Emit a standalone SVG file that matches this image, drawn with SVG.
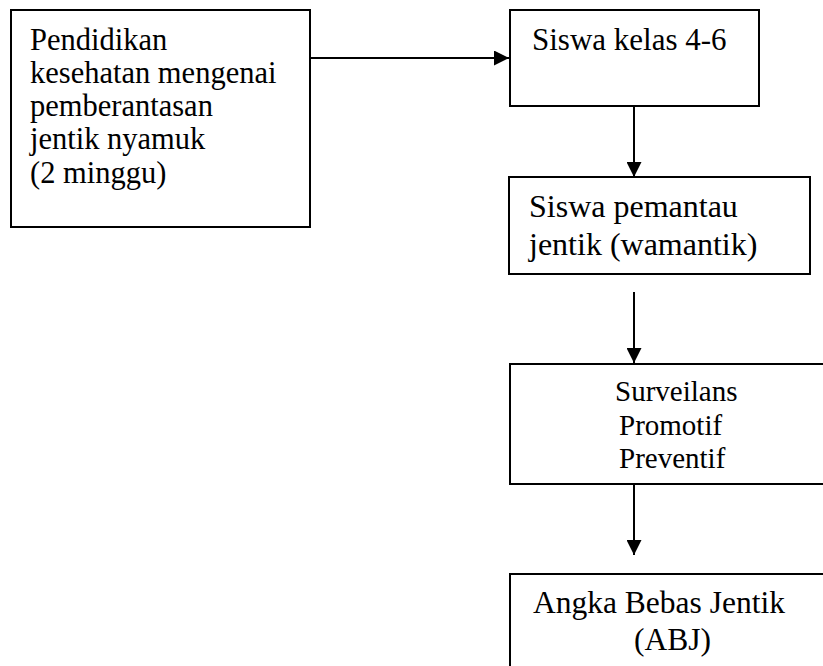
<svg xmlns="http://www.w3.org/2000/svg" width="823" height="666" viewBox="0 0 823 666">
<defs>
<style>
.box{fill:#fff;stroke:#000;stroke-width:2}
.t{font-family:"Liberation Serif","Times New Roman",serif;fill:#000}
.c{stroke:#000;stroke-width:2;fill:none}
</style>
<marker id="ah" markerUnits="userSpaceOnUse" markerWidth="15" markerHeight="15" refX="15" refY="7.5" orient="auto" viewBox="0 0 15 15">
<path d="M0,0 L15,7.5 L0,15 z" fill="#000"/>
</marker>
</defs>
<rect width="823" height="666" fill="#fff"/>
<g id="n1">
<rect class="box" x="11" y="10" width="299" height="217"/>
<text class="t" font-size="30.5"><tspan x="30" y="50">Pendidikan</tspan><tspan x="30" y="83">kesehatan mengenai</tspan><tspan x="30" y="116">pemberantasan</tspan><tspan x="30" y="149">jentik nyamuk</tspan><tspan x="30" y="183">(2 minggu)</tspan></text>
</g>
<g id="n2">
<rect class="box" x="510" y="10" width="249" height="96"/>
<text class="t" font-size="31" x="532" y="50">Siswa kelas 4-6</text>
</g>
<g id="n3">
<rect class="box" x="509" y="177" width="301" height="97"/>
<text class="t" font-size="32"><tspan x="529" y="217">Siswa pemantau</tspan><tspan x="529" y="255">jentik (wamantik)</tspan></text>
</g>
<g id="n4">
<rect class="box" x="510" y="364" width="330" height="120"/>
<text class="t" font-size="29"><tspan x="615" y="401">Surveilans</tspan><tspan x="619" y="435">Promotif</tspan><tspan x="619" y="468">Preventif</tspan></text>
</g>
<g id="n5">
<rect class="box" x="510" y="574" width="330" height="110"/>
<text class="t" font-size="31.5"><tspan x="533" y="613">Angka Bebas Jentik</tspan><tspan x="634" y="650">(ABJ)</tspan></text>
</g>
<g id="connectors">
<line class="c" x1="310" y1="58" x2="509" y2="58" marker-end="url(#ah)"/>
<line class="c" x1="634" y1="106" x2="634" y2="177" marker-end="url(#ah)"/>
<line class="c" x1="634" y1="292" x2="634" y2="363" marker-end="url(#ah)"/>
<line class="c" x1="634" y1="484" x2="634" y2="555" marker-end="url(#ah)"/>
</g>
</svg>
